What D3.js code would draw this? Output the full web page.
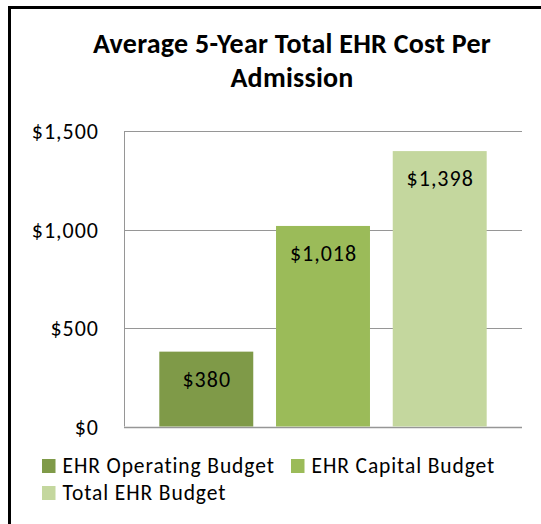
<!DOCTYPE html>
<html>
<head>
<meta charset="utf-8">
<script src="https://cdn.jsdelivr.net/npm/d3@7"></script>
<style>
  body { margin: 0; background: #fff; }
  text { font-family: Carlito, Calibri, Lato, sans-serif; fill: #000; }
</style>
</head>
<body>
<div id="chart"></div>
<script>
// chart data
const series = ["EHR Operating Budget", "EHR Capital Budget", "Total EHR Budget"];
const values = [380, 1018, 1398];
const labels = ["$380", "$1,018", "$1,398"];
const colors = ["#7f9a48", "#9bbb59", "#c4d79e"];
const yTicks = [0, 500, 1000, 1500];
const yTickLabels = ["$0", "$500", "$1,000", "$1,500"];
const titleLines = ["Average 5-Year Total EHR Cost Per", "Admission"];

var width = 541, height = 524;
var plot = {left: 124, right: 522, top: 131, bottom: 426.5};

var svg = d3.select("#chart")
  .append("svg")
    .attr("width", width)
    .attr("height", height);

// outer frame (only its left and top edges fall inside the picture)
svg.append("path")
  .attr("d", "M9.5,524 V7.5 H541")
  .attr("fill", "none")
  .attr("stroke", "#000")
  .attr("stroke-width", 3);

// title
svg.append("g").selectAll("text")
  .data(titleLines)
  .enter()
  .append("text")
    .attr("x", 292)
    .attr("y", (d, i) => 52.5 + i * 34.5)
    .attr("text-anchor", "middle")
    .style("font-size", "28px")
    .style("font-weight", "bold")
    .style("letter-spacing", "0.25px")
    .text(d => d);

var x = d3.scaleBand()
  .domain(series)
  .range([plot.left, plot.right])
  .paddingInner(0.195)
  .paddingOuter(0.3025);

var y = d3.scaleLinear()
  .domain([0, 1500])
  .range([plot.bottom, plot.top]);

// gridlines
svg.append("g").selectAll("line")
  .data(yTicks)
  .enter()
  .append("line")
    .attr("x1", plot.left)
    .attr("x2", plot.right)
    .attr("y1", d => Math.round(y(d)) + 0.5)
    .attr("y2", d => Math.round(y(d)) + 0.5)
    .attr("stroke", "#969696")
    .attr("stroke-width", d => d == 0 ? 1.5 : 1);

// left axis line
svg.append("line")
  .attr("x1", plot.left + 0.5)
  .attr("x2", plot.left + 0.5)
  .attr("y1", plot.top)
  .attr("y2", plot.bottom)
  .attr("stroke", "#969696");

// y tick labels
svg.append("g").selectAll("text")
  .data(yTicks)
  .enter()
  .append("text")
    .attr("x", 99)
    .attr("y", d => y(d) + 8)
    .attr("text-anchor", "end")
    .style("font-size", "22px")
    .style("letter-spacing", "1px")
    .text((d, i) => yTickLabels[i]);

// bars
svg.append("g").selectAll("rect")
  .data(values)
  .enter()
  .append("rect")
    .attr("x", (d, i) => x(series[i]))
    .attr("y", d => y(d))
    .attr("width", x.bandwidth())
    .attr("height", d => plot.bottom - y(d))
    .attr("fill", (d, i) => colors[i]);

// data labels
svg.append("g").selectAll("text")
  .data(values)
  .enter()
  .append("text")
    .attr("x", (d, i) => x(series[i]) + x.bandwidth() / 2 + 0.5)
    .attr("y", d => y(d) + 35)
    .attr("text-anchor", "middle")
    .style("font-size", "22px")
    .style("letter-spacing", "1px")
    .text((d, i) => labels[i]);

// legend
var legendPos = [[42, 459], [291, 459], [42, 486]];
var legend = svg.append("g").selectAll("g")
  .data(series)
  .enter()
  .append("g")
    .attr("transform", (d, i) => "translate(" + legendPos[i][0] + "," + legendPos[i][1] + ")");

legend.append("rect")
  .attr("width", 13.5)
  .attr("height", 14)
  .attr("fill", (d, i) => colors[i]);

legend.append("text")
  .attr("x", 20.5)
  .attr("y", 14)
  .style("font-size", "21.5px")
  .style("letter-spacing", "0.9px")
  .text(d => d);
</script>
</body>
</html>
